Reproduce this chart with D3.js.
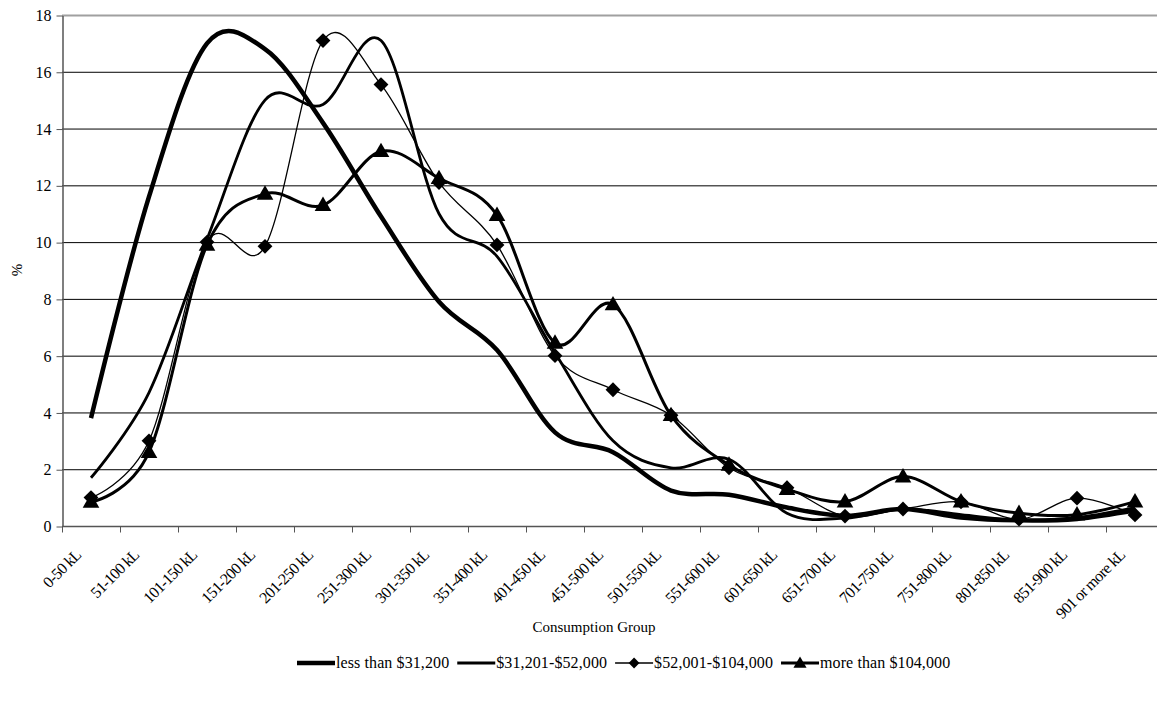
<!DOCTYPE html>
<html>
<head>
<meta charset="utf-8">
<script src="https://cdn.jsdelivr.net/npm/d3@7"></script>
<style>
  body { margin: 0; background: #fff; }
  text { font-family: "Liberation Serif", "Times New Roman", serif; fill: #000; }
</style>
</head>
<body>
<svg width="1157" height="707"></svg>
<script>
var categories = ["0-50 kL", "51-100 kL", "101-150 kL", "151-200 kL", "201-250 kL",
  "251-300 kL", "301-350 kL", "351-400 kL", "401-450 kL", "451-500 kL", "501-550 kL",
  "551-600 kL", "601-650 kL", "651-700 kL", "701-750 kL", "751-800 kL", "801-850 kL",
  "851-900 kL", "901 or more kL"];

var seriesNames = ["less than $31,200", "$31,201-$52,000", "$52,001-$104,000", "more than $104,000"];

var lowIncome  = [3.8, 11.6, 17.0, 16.8, 14.2, 10.9, 7.9, 6.2, 3.3, 2.6, 1.25, 1.1, 0.65, 0.36, 0.6, 0.3, 0.2, 0.25, 0.55];
var midIncome  = [1.7, 4.7, 10.1, 15.0, 14.85, 17.1, 11.0, 9.5, 6.1, 3.0, 2.05, 2.35, 0.45, 0.28, 0.6, 0.4, 0.2, 0.3, 0.65];
var highIncome = [1.0, 3.0, 10.0, 9.85, 17.1, 15.55, 12.1, 9.9, 6.0, 4.8, 3.9, 2.05, 1.35, 0.35, 0.6, 0.85, 0.24, 0.98, 0.39];
var topIncome  = [0.85, 2.6, 9.9, 11.7, 11.3, 13.2, 12.25, 10.95, 6.45, 7.8, 3.9, 2.15, 1.3, 0.86, 1.74, 0.86, 0.45, 0.4, 0.86];

var yTicks = [0, 2, 4, 6, 8, 10, 12, 14, 16, 18];

var svg = d3.select("svg");
var plotLeft = 62, plotTop = 15, plotBottom = 526;
var bandW = 58;

var x = d3.scaleBand()
  .domain(categories)
  .range([plotLeft, plotLeft + categories.length * bandW])
  .padding(0);

var y = d3.scaleLinear()
  .domain([0, 18])
  .range([plotBottom, plotTop]);

// gridlines
svg.append("g")
  .selectAll("line")
  .data(yTicks.filter(d => d > 0 && d < 18))
  .enter()
  .append("line")
    .attr("x1", plotLeft)
    .attr("x2", 1157)
    .attr("y1", d => y(d) + 0.5)
    .attr("y2", d => y(d) + 0.5)
    .attr("stroke", "#000")
    .attr("stroke-width", 1);

// top border of plot area
svg.append("line")
  .attr("x1", plotLeft).attr("x2", 1157)
  .attr("y1", y(18) + 0.5).attr("y2", y(18) + 0.5)
  .attr("stroke", "#a0a0a0")
  .attr("stroke-width", 2);

// y axis
var yAxis = svg.append("g")
  .attr("transform", "translate(" + (plotLeft + 0.5) + ",0.5)")
  .call(d3.axisLeft(y).tickValues(yTicks).tickSize(6).tickSizeOuter(0).tickPadding(5));
yAxis.select(".domain").attr("stroke", "#555").attr("stroke-width", 1.5);
yAxis.selectAll(".tick line").attr("stroke", "#555");
yAxis.selectAll(".tick text")
  .style("font-size", "16px")
  .style("font-family", "'Liberation Serif', serif")
  .attr("fill", "#000");

// x axis
var xAxis = svg.append("g")
  .attr("transform", "translate(0," + (plotBottom + 0.5) + ")");
xAxis.append("line")
  .attr("x1", plotLeft).attr("x2", 1157)
  .attr("stroke", "#555").attr("stroke-width", 1.5);
xAxis.selectAll("line.tk")
  .data(d3.range(categories.length + 1))
  .enter()
  .append("line")
    .attr("class", "tk")
    .attr("x1", d => plotLeft + d * bandW + 0.5)
    .attr("x2", d => plotLeft + d * bandW + 0.5)
    .attr("y1", 0)
    .attr("y2", 6)
    .attr("stroke", "#555");

svg.append("g")
  .selectAll("text")
  .data(categories)
  .enter()
  .append("text")
    .attr("text-anchor", "end")
    .attr("transform", d => "translate(" + (x(d) + bandW / 2 - 9) + ",556) rotate(-45)")
    .style("font-size", "16px")
    .style("letter-spacing", "-0.7px")
    .text(d => d);

svg.append("text")
  .attr("x", 594)
  .attr("y", 632)
  .attr("text-anchor", "middle")
  .style("font-size", "15px")
  .text("Consumption Group");

svg.append("text")
  .attr("transform", "translate(22,270) rotate(-90)")
  .attr("text-anchor", "middle")
  .style("font-size", "15px")
  .text("%");

// lines
var seriesData = [lowIncome, midIncome, highIncome, topIncome];
var widths = [4.5, 2.8, 1.3, 3];

var line = d3.line()
  .x((d, i) => x(categories[i]) + bandW / 2)
  .y(d => y(d))
  .curve(d3.curveCardinal.tension(0));

svg.append("g")
  .selectAll("path")
  .data(seriesData)
  .enter()
  .append("path")
    .attr("d", d => line(d))
    .attr("fill", "none")
    .attr("stroke", "#000")
    .attr("stroke-width", (d, i) => widths[i])
    .attr("stroke-linejoin", "round");

var diamond = d3.symbol().type(d3.symbolDiamond2).size(140);
var triangle = d3.symbol().type(d3.symbolTriangle).size(120);

svg.append("g")
  .selectAll("path")
  .data(highIncome)
  .enter()
  .append("path")
    .attr("d", diamond)
    .attr("transform", (d, i) => "translate(" + (x(categories[i]) + bandW / 2) + "," + y(d) + ")")
    .attr("fill", "#000");

svg.append("g")
  .selectAll("path")
  .data(topIncome)
  .enter()
  .append("path")
    .attr("d", triangle)
    .attr("transform", (d, i) => "translate(" + (x(categories[i]) + bandW / 2) + "," + (y(d) + 1) + ")")
    .attr("fill", "#000");

// legend
var legend = svg.append("g");
var lx = 297, ly = 668;
seriesNames.forEach(function(name, i) {
  legend.append("line")
    .attr("x1", lx).attr("x2", lx + 38)
    .attr("y1", ly - 5).attr("y2", ly - 5)
    .attr("stroke", "#000")
    .attr("stroke-width", widths[i]);
  if (i == 2) {
    legend.append("path").attr("d", d3.symbol().type(d3.symbolDiamond2).size(75))
      .attr("transform", "translate(" + (lx + 19) + "," + (ly - 5) + ")");
  }
  if (i == 3) {
    legend.append("path").attr("d", d3.symbol().type(d3.symbolTriangle).size(75))
      .attr("transform", "translate(" + (lx + 19) + "," + (ly - 4) + ")");
  }
  var t = legend.append("text")
    .attr("x", lx + 39)
    .attr("y", ly)
    .style("font-size", "16px")
    .style("letter-spacing", "0.1px")
    .text(name);
  lx += 39 + t.node().getComputedTextLength() + 8;
});
</script>
</body>
</html>
